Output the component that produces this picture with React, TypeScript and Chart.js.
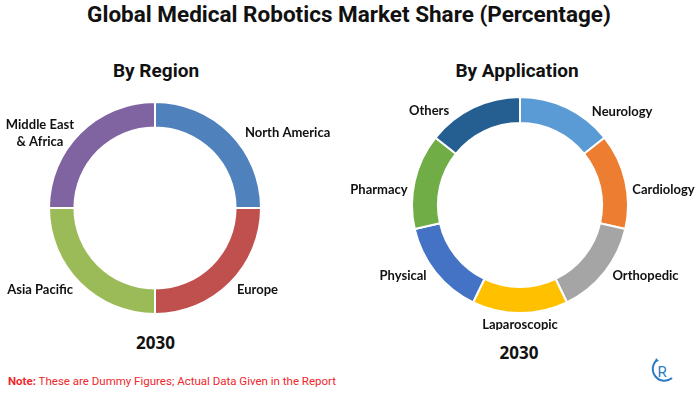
import React, { useEffect, useRef } from "react";
import { Chart, registerables } from "chart.js";

Chart.register(...registerables);

// ---- data ----
const chartTitle = "Global Medical Robotics Market Share (Percentage)";
const yearLabel = "2030";

const regionTitle = "By Region";
const regionLabels: (string | string[])[] = ["North America", "Europe", "Asia Pacific", ["Middle East", "& Africa"]];
const regionValues = [25, 25, 25, 25];
const regionColors = ["#4F81BD", "#C0504D", "#9BBB59", "#8064A2"];

const appTitle = "By Application";
const appLabels = ["Neurology", "Cardiology", "Orthopedic", "Laparoscopic", "Physical", "Pharmacy", "Others"];
const appValues = [14.3, 14.3, 14.3, 14.3, 14.3, 14.3, 14.3];
const appColors = ["#5B9BD5", "#ED7D31", "#A5A5A5", "#FFC000", "#4472C4", "#70AD47", "#255E91"];

// label nudges (style): offsets from each arc's outer mid-point
const regionNudges = [[15, 0], [7, 7], [-7, 7], [-6, 0]];
const appNudges = [[25, 4], [7, 9], [8, 3], [0, 12], [-9, 3], [-7, 9], [-24, 3]];

const labelFont = "700 13px Lato";

const outerLabels = {
  id: "outerLabels",
  afterDatasetsDraw(chart: any, _args: any, opts: any) {
    const ctx = chart.ctx;
    const meta = chart.getDatasetMeta(0);
    const labels = chart.data.labels as any[];
    ctx.save();
    ctx.font = labelFont;
    ctx.fillStyle = "#111111";
    ctx.textBaseline = "middle";
    ctx.textAlign = "center";
    meta.data.forEach((arc: any, i: number) => {
      const p = arc.getProps(["x", "y", "startAngle", "endAngle", "outerRadius"], true);
      const mid = (p.startAngle + p.endAngle) / 2;
      const ax = p.x + Math.cos(mid) * p.outerRadius;
      const ay = p.y + Math.sin(mid) * p.outerRadius;
      const [dx, dy] = opts.nudges[i] || [0, 0];
      const c = Math.cos(mid);
      const lines: string[] = Array.isArray(labels[i]) ? labels[i] : [labels[i]];
      const w = Math.max(...lines.map((l) => ctx.measureText(l).width));
      let cx = ax + dx;
      if (c > 0.1) cx = ax + dx + w / 2;
      else if (c < -0.1) cx = ax + dx - w / 2;
      const cy = ay + dy;
      const lh = 17;
      lines.forEach((l, k) => ctx.fillText(l, cx, cy + (k - (lines.length - 1) / 2) * lh));
    });
    ctx.restore();
  },
};

function Doughnut(props: {
  labels: any[];
  values: number[];
  colors: string[];
  nudges: number[][];
  left: number;
  top: number;
  width: number;
  height: number;
  pad: number;
}) {
  const ref = useRef<HTMLCanvasElement | null>(null);
  useEffect(() => {
    let chart: Chart | null = null;
    let cancelled = false;
    const make = () => {
      if (cancelled || !ref.current) return;
      chart = new Chart(ref.current, {
        type: "doughnut",
        data: {
          labels: props.labels as any,
          datasets: [
            {
              data: props.values,
              backgroundColor: props.colors,
              borderColor: "#ffffff",
              borderWidth: 2,
            },
          ],
        },
        options: {
          responsive: false,
          animation: false,
          cutout: "76%",
          layout: { padding: { top: props.pad, bottom: props.pad, left: 0, right: 0 } },
          plugins: {
            legend: { display: false },
            tooltip: { enabled: false },
            outerLabels: { nudges: props.nudges },
          } as any,
        },
        plugins: [outerLabels as any],
      });
    };
    const f = (document as any).fonts;
    if (f && f.load) {
      f.load(labelFont).then(make, make);
    } else make();
    return () => {
      cancelled = true;
      if (chart) chart.destroy();
    };
  }, []);
  return (
    <canvas
      ref={ref}
      width={props.width}
      height={props.height}
      style={{ position: "absolute", left: props.left, top: props.top, width: props.width, height: props.height }}
    />
  );
}

function Text(props: { x: number; y: number; size: number; weight: number; family: string; children: any; color?: string; align?: "center" | "left" }) {
  const lh = Math.round(props.size * 1.4);
  return (
    <div
      style={{
        position: "absolute",
        left: props.x,
        top: props.y - lh / 2,
        lineHeight: lh + "px",
        fontSize: props.size,
        fontWeight: props.weight,
        fontFamily: props.family,
        color: props.color || "#111111",
        whiteSpace: "nowrap",
        transform: props.align === "left" ? undefined : "translateX(-50%)",
      }}
    >
      {props.children}
    </div>
  );
}

export default function App() {
  return (
    <div style={{ position: "fixed", left: 0, top: 0, width: 700, height: 393, background: "#ffffff", overflow: "hidden" }}>
      <Text x={349} y={14} size={22.5} weight={700} family="Roboto, sans-serif">{chartTitle}</Text>
      <Text x={156} y={70} size={19} weight={700} family="Roboto, sans-serif">{regionTitle}</Text>
      <Text x={517} y={70} size={19} weight={700} family="Roboto, sans-serif">{appTitle}</Text>

      <Doughnut labels={regionLabels} values={regionValues} colors={regionColors} nudges={regionNudges}
        left={-20} top={90} width={350} height={236} pad={11} />
      <Doughnut labels={appLabels} values={appValues} colors={appColors} nudges={appNudges}
        left={340} top={80} width={360} height={250} pad={16} />

      <Text x={155.5} y={343} size={17} weight={700} family="'Open Sans', sans-serif">{yearLabel}</Text>
      <Text x={519} y={353} size={17} weight={700} family="'Open Sans', sans-serif">{yearLabel}</Text>

      <Text x={8} y={381} size={11.5} weight={400} family="Roboto, sans-serif" color="#F0262B" align="left">
        <span style={{ fontWeight: 700 }}>Note:</span> These are Dummy Figures; Actual Data Given in the Report
      </Text>

      <svg style={{ position: "absolute", left: 648, top: 356 }} width={28} height={30} viewBox="0 0 28 30">
        <path d="M 9 4 A 11 11 0 1 0 24 22" fill="none" stroke="#2B7BC4" strokeWidth={2} />
        <path d="M 8 2 L 11 5 L 7 6 Z" fill="#2B7BC4" />
        <text x={14} y={21} textAnchor="middle" fontFamily="Roboto, sans-serif" fontSize={15} fill="#2B7BC4">R</text>
      </svg>
    </div>
  );
}
